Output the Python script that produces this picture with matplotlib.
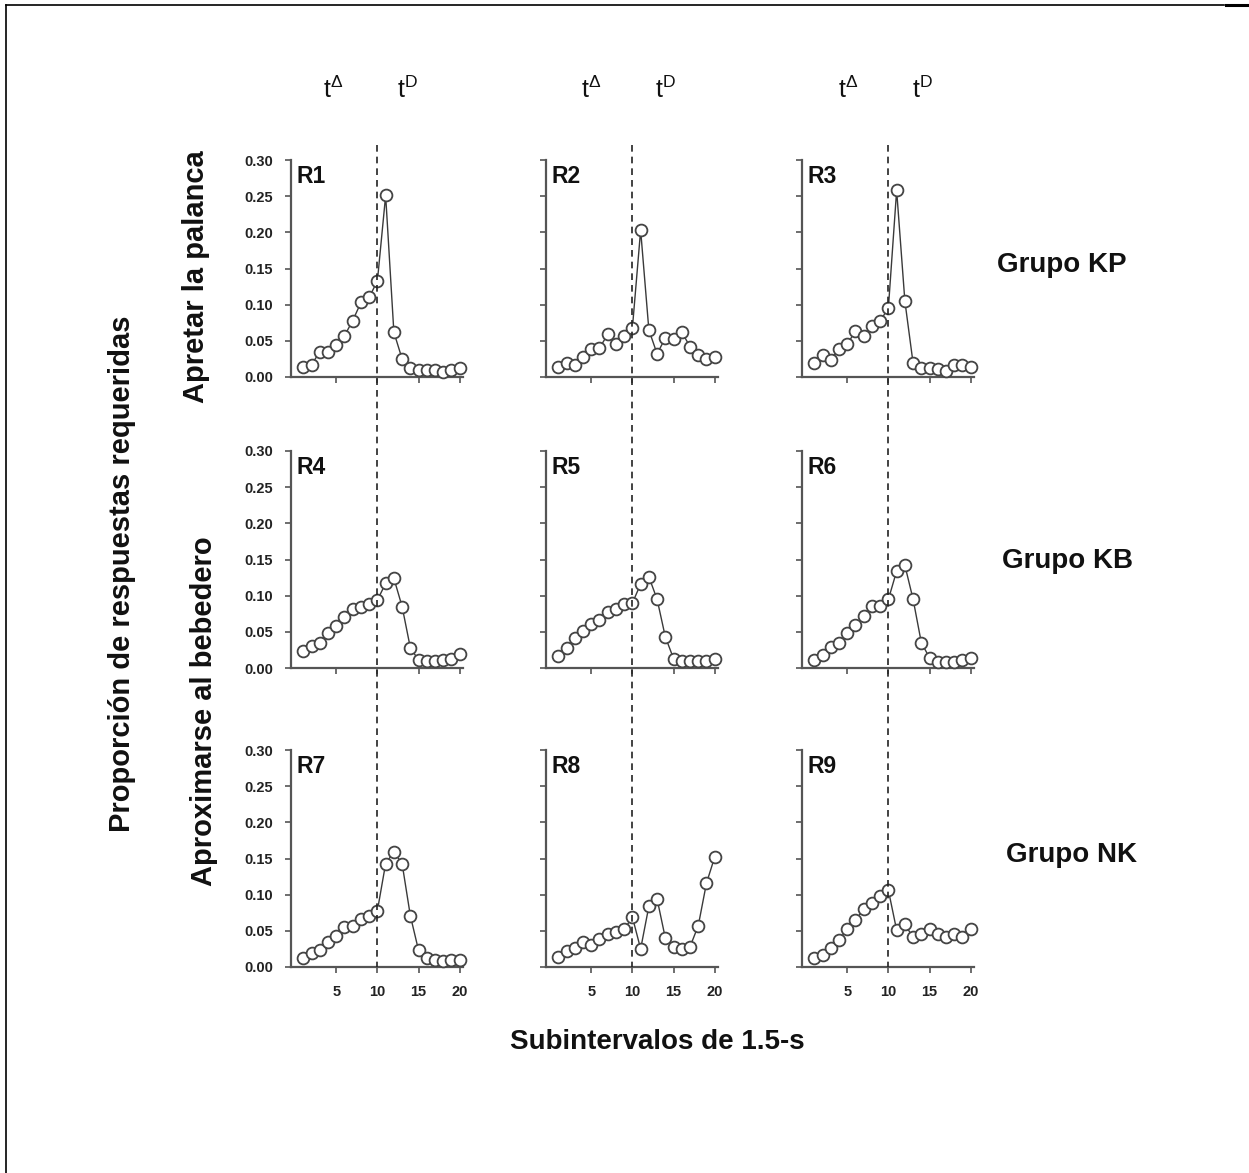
import matplotlib
matplotlib.use("Agg")
import matplotlib.pyplot as plt
from matplotlib.lines import Line2D
import numpy as np

plt.rcParams['font.family'] = ['Liberation Sans', 'DejaVu Sans']
plt.rcParams['mathtext.fontset'] = 'custom'
plt.rcParams['mathtext.rm'] = 'Liberation Sans'
plt.rcParams['mathtext.it'] = 'Liberation Sans'

subintervals = list(range(1, 21))
panel_labels = ["R1", "R2", "R3", "R4", "R5", "R6", "R7", "R8", "R9"]
group_labels = ["Grupo KP", "Grupo KB", "Grupo NK"]
row_labels = ["Apretar la palanca", "Aproximarse al bebedero"]
y_ticks = [0.00, 0.05, 0.10, 0.15, 0.20, 0.25, 0.30]
x_ticks = [5, 10, 15, 20]

R1 = [0.014, 0.017, 0.035, 0.034, 0.044, 0.057, 0.078, 0.103, 0.110, 0.133,
      0.251, 0.062, 0.025, 0.013, 0.010, 0.010, 0.009, 0.007, 0.009, 0.013]
R2 = [0.014, 0.019, 0.017, 0.027, 0.039, 0.040, 0.059, 0.045, 0.056, 0.068,
      0.203, 0.065, 0.032, 0.054, 0.052, 0.062, 0.042, 0.031, 0.025, 0.027]
R3 = [0.020, 0.030, 0.024, 0.039, 0.045, 0.064, 0.057, 0.071, 0.077, 0.096,
      0.258, 0.105, 0.019, 0.013, 0.013, 0.011, 0.008, 0.017, 0.017, 0.014]
R4 = [0.024, 0.031, 0.035, 0.049, 0.058, 0.070, 0.081, 0.085, 0.089, 0.094,
      0.117, 0.124, 0.085, 0.028, 0.011, 0.010, 0.010, 0.011, 0.012, 0.019]
R5 = [0.016, 0.027, 0.042, 0.051, 0.061, 0.067, 0.078, 0.082, 0.089, 0.090,
      0.116, 0.126, 0.095, 0.043, 0.013, 0.010, 0.009, 0.009, 0.009, 0.013]
R6 = [0.011, 0.018, 0.029, 0.034, 0.049, 0.060, 0.072, 0.086, 0.086, 0.095,
      0.134, 0.142, 0.095, 0.035, 0.014, 0.008, 0.008, 0.008, 0.011, 0.014]
R7 = [0.012, 0.019, 0.024, 0.035, 0.043, 0.055, 0.057, 0.066, 0.071, 0.078,
      0.143, 0.159, 0.143, 0.071, 0.023, 0.012, 0.009, 0.008, 0.009, 0.010]
R8 = [0.014, 0.022, 0.026, 0.034, 0.030, 0.039, 0.045, 0.049, 0.052, 0.069,
      0.025, 0.084, 0.094, 0.040, 0.028, 0.025, 0.028, 0.057, 0.116, 0.152]
R9 = [0.012, 0.017, 0.026, 0.037, 0.053, 0.065, 0.080, 0.089, 0.098, 0.106,
      0.051, 0.059, 0.041, 0.045, 0.053, 0.045, 0.042, 0.046, 0.042, 0.052]
series = [R1, R2, R3, R4, R5, R6, R7, R8, R9]

W, H = 1249, 1173
fig = plt.figure(figsize=(W / 100, H / 100), dpi=100)

col_left = [291, 546, 802]
col_w = 172
row_top = [160, 451, 750]
row_h = 217

def fx(px):
    return px / W

def fy(py):
    return 1 - py / H

axes = []
for r in range(3):
    for c in range(3):
        ax = fig.add_axes([fx(col_left[c]), fy(row_top[r] + row_h), fx(col_w), row_h / H])
        axes.append(ax)
        i = r * 3 + c
        ax.plot(subintervals, series[i], color='#3a3a3a', lw=1.0, marker='o',
                markersize=8.5, markerfacecolor='white', markeredgecolor='#444444',
                markeredgewidth=1.3, clip_on=False, zorder=3)
        ax.set_xlim(-0.5, 20.4)
        ax.set_ylim(0, 0.30)
        ax.set_xticks(x_ticks)
        ax.set_yticks(y_ticks)
        for s in ['top', 'right']:
            ax.spines[s].set_visible(False)
        for s in ['left', 'bottom']:
            ax.spines[s].set_color('#555555')
            ax.spines[s].set_linewidth(1.6)
        ax.tick_params(direction='out', length=4, width=1.2, color='#555555',
                       labelsize=10.5, labelcolor='#222222')
        ax.tick_params(axis='y', pad=9)
        ax.tick_params(axis='x', pad=9)
        if c == 0:
            ax.set_yticklabels([f"{v:.2f}" for v in y_ticks], fontweight='bold')
        else:
            ax.set_yticklabels([])
        if r == 2:
            ax.set_xticklabels([str(v) for v in x_ticks], fontweight='bold')
        else:
            ax.set_xticklabels([])
        ax.text(0.03, 0.975, panel_labels[i], transform=ax.transAxes, ha='left',
                va='top', fontsize=16.5, fontweight='bold', color='#111111')

# dashed lines at x = 10 through each column
fig.canvas.draw()
for c in range(3):
    ax_top = axes[c]
    xd = ax_top.transData.transform((10, 0))[0]
    x_fig = xd / fig.dpi / fig.get_figwidth()
    y0 = fy(145)
    y1 = fy(row_top[2] + row_h)
    fig.add_artist(Line2D([x_fig, x_fig], [y0, y1], transform=fig.transFigure,
                          color='#222222', lw=1.2, ls=(0, (4, 3))))

# t labels
t_pos = [(333, 407), (591, 665), (848, 922)]
for a, b in t_pos:
    fig.text(fx(a), fy(90), r'$\mathregular{t^{\Delta}}$', ha='center', va='center',
             fontsize=18, color='#111111')
    fig.text(fx(b), fy(90), r'$\mathregular{t^{D}}$', ha='center', va='center',
             fontsize=18, color='#111111')

# group labels
for lbl, (gx, gy) in zip(group_labels, [(1062, 265), (1067, 561), (1072, 855)]):
    fig.text(fx(gx), fy(gy), lbl, ha='center', va='center', fontsize=20,
             fontweight='bold', color='#111111')

# row labels
fig.text(fx(196), fy(277), row_labels[0], rotation=90, ha='center', va='center',
         fontsize=21, fontweight='bold', color='#111111')
fig.text(fx(204), fy(711), row_labels[1], rotation=90, ha='center', va='center',
         fontsize=21, fontweight='bold', color='#111111')
fig.text(fx(122), fy(574), 'Proporción de respuestas requeridas', rotation=90,
         ha='center', va='center', fontsize=21, fontweight='bold', color='#111111')
fig.text(fx(657), fy(1042), 'Subintervalos de 1.5-s', ha='center', va='center',
         fontsize=20, fontweight='bold', color='#111111')

# frame lines
fig.add_artist(Line2D([fx(6), fx(1224)], [fy(5), fy(5)], transform=fig.transFigure,
                      color='black', lw=1.2))
fig.add_artist(Line2D([fx(6), fx(6)], [fy(5), fy(1173)], transform=fig.transFigure,
                      color='black', lw=1.2))
fig.add_artist(Line2D([fx(1226), fx(1249)], [fy(5), fy(5)], transform=fig.transFigure,
                      color='black', lw=2.2))

fig.savefig('out.png', dpi=100)
